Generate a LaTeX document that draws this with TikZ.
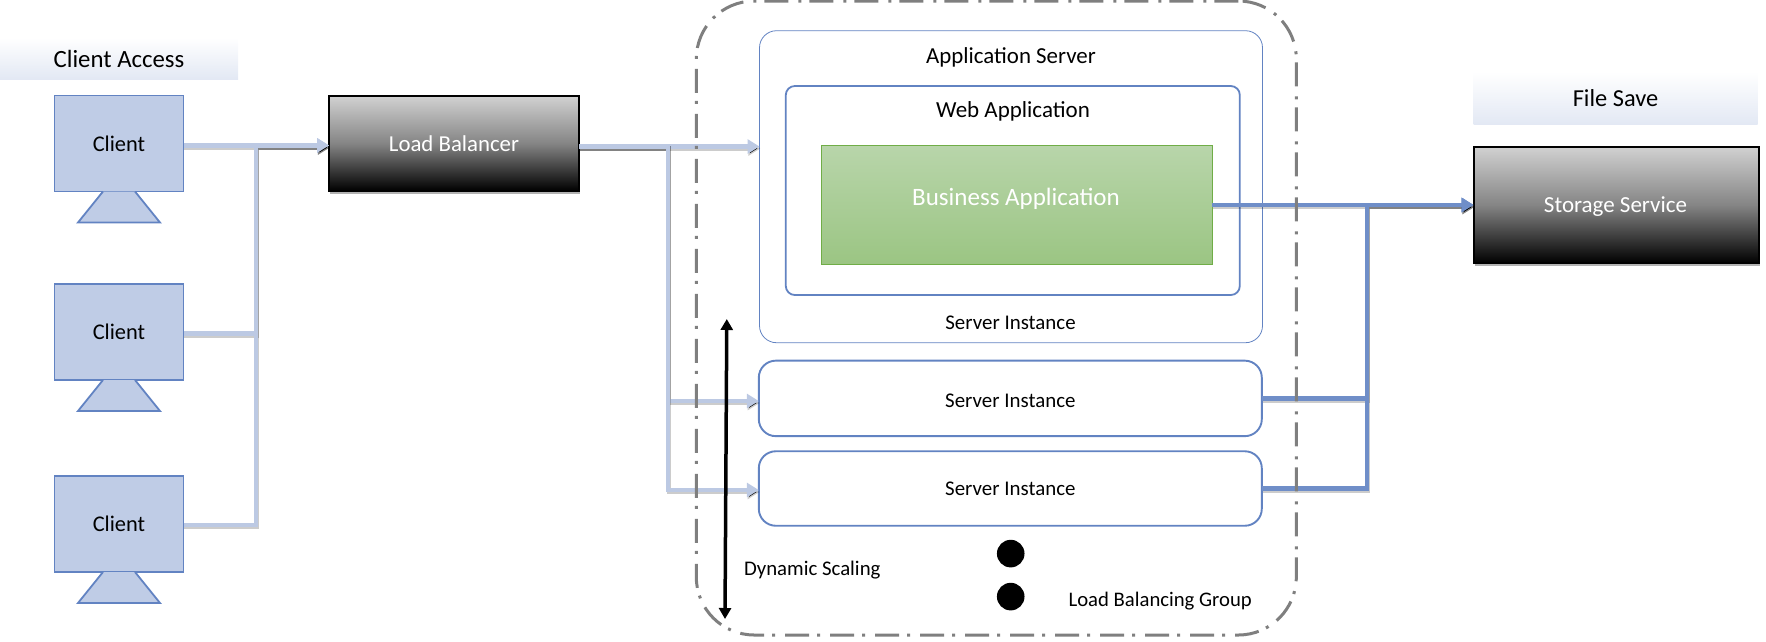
\documentclass[tikz,border=0pt]{standalone}
\usepackage{fontspec}
\setmainfont{Carlito}
\usetikzlibrary{arrows.meta,shadows,calc}
\definecolor{boxfill}{HTML}{BFCCE6}
\definecolor{boxline}{HTML}{6283C2}
\definecolor{connlight}{HTML}{BCC9E3}
\definecolor{conndark}{HTML}{6F8EC8}
\definecolor{bizline}{HTML}{70AD47}
\definecolor{biztop}{HTML}{B8D5AA}
\definecolor{bizbot}{HTML}{9BC583}
\definecolor{outerline}{HTML}{7F7F7F}
\newcommand{\fsz}[1]{\fontsize{#1}{#1}\selectfont}
\tikzset{
  base/.style={inner sep=0pt,outer sep=0pt,align=center},
  clientbox/.style={base,draw=boxline,line width=1.8pt,fill=boxfill,minimum width=129pt,minimum height=96pt,font=\fsz{22.4}},
  stand/.style={draw=boxline,line width=1.8pt,fill=boxfill,line join=miter},
  darkbox/.style={base,draw=black,line width=2pt,top color=black!18,bottom color=black,middle color=black!48,text=white,
     drop shadow={shadow xshift=1pt,shadow yshift=-3pt,opacity=.3,fill=black}},
  band/.style={base,top color=white,bottom color=boxfill!45!white},
  lbl/.style={base,font=\fsz{20.9}},
  instance/.style={base,draw=boxline,line width=1.9pt,rounded corners=17pt,minimum width=503pt,font=\fsz{20.9}},
  lightconn/.style={draw=connlight,line width=4.2pt,
     preaction={draw=black,draw opacity=.2,line width=4.2pt,transform canvas={xshift=.8pt,yshift=-2pt}}},
  darkconn/.style={draw=conndark,line width=4.2pt,
     preaction={draw=black,draw opacity=.2,line width=4.2pt,transform canvas={xshift=.8pt,yshift=-2pt}}},
  tip/.style={-{Triangle[length=12pt,width=14pt]}},
}
\begin{document}
\begin{tikzpicture}[x=1pt,y=-1pt]
\useasboundingbox (0,0) rectangle (1766,641);
% bands
\node[band,minimum width=238pt,minimum height=42pt,font=\fsz{24.8}] (access) at (119,58.5) {Client Access};
\node[band,minimum width=284pt,minimum height=53pt,font=\fsz{24.4}] (filesave) at (1615.5,98.3) {File Save};
% clients
\foreach \n/\y in {c1/143.5,c2/332,c3/524}{
  \node[clientbox] (\n) at (119,\y) {Client};
  \draw[stand] ([xshift=-16pt]\n.south) -- ([xshift=-41pt,yshift=-31pt]\n.south) -- ([xshift=41pt,yshift=-31pt]\n.south) -- ([xshift=16pt]\n.south);
}
% dark boxes
\node[darkbox,minimum width=250pt,minimum height=95pt,font=\fsz{22.8}] (lb) at (454,143.5) {Load Balancer};
\node[darkbox,minimum width=285pt,minimum height=116.5pt] (store) at (1616,205) {};
\node[base,text=white,font=\fsz{23}] (storetext) at (1615.5,206.8) {Storage Service};
% server
\node[base,draw=boxline,line width=.8pt,rounded corners=17pt,minimum width=503pt,minimum height=312pt] (app) at (1011,186.7) {};
\node[lbl,font=\fsz{22.9}] (apptitle) at (1011,57.2) {Application Server};
\node[base,draw=boxline,line width=1.8pt,rounded corners=9pt,minimum width=454pt,minimum height=209pt] (web) at (1012.8,190.5) {};
\node[lbl,font=\fsz{23}] (webtitle) at (1013,111.5) {Web Application};
\node[base,draw=bizline,line width=1pt,top color=biztop,bottom color=bizbot,minimum width=391pt,minimum height=118.5pt] (biz) at (1016.8,205) {};
\node[base,text=white,font=\fsz{25}] (biztext) at (1016,198.5) {Business Application};
\node[lbl] (s1) at (1010.5,323) {Server Instance};
\node[instance,minimum height=75.5pt] (s2) at (1010.3,398.4) {};
\node[lbl] (s2text) at (1010.3,401.2) {Server Instance};
\node[instance,minimum height=74.5pt] (s3) at (1010.3,488.5) {Server Instance};
\node[circle,fill=black,minimum size=27.6pt,inner sep=0pt] (d1) at (1010.7,553.6) {};
\node[circle,fill=black,minimum size=27.6pt,inner sep=0pt] (d2) at (1010.7,596.6) {};
\node[lbl,font=\fsz{20.8}] (dyn) at (812.3,570) {Dynamic Scaling};
\node[lbl,font=\fsz{20.7}] (lbg) at (1160.2,601.5) {Load Balancing Group};
% routing points
\coordinate (ja) at (256,145.5);
\coordinate (jb) at (668,146.5);
\coordinate (js2) at (668,401);
\coordinate (js3) at (668,490);
\coordinate (jc) at (1367,205);
% connectors in
\draw[lightconn,tip] (ja -| c1.east) -- (ja -| lb.west);
\draw[lightconn,tip] ([yshift=-1.5pt]c2.east) -| (ja) -- (ja -| lb.west);
\draw[lightconn,tip] ([yshift=-1pt]c3.east) -| (ja) -- (ja -| lb.west);
% connectors out
\draw[lightconn,tip] (jb -| lb.east) -- (jb -| app.west);
\draw[lightconn,tip] (jb -| lb.east) -| (js2) -- (js2 -| s2.west);
\draw[lightconn,tip] (jb -| lb.east) -| (js3) -- (js3 -| s3.west);
% connectors to storage
\draw[darkconn,tip] (biz.east) -- (store.west);
\draw[darkconn,tip] (s2.east) -| (jc) -- (store.west);
\draw[darkconn,tip] (s3.east) -| (jc) -- (store.west);
% outer group
\node[base,draw=outerline,line width=3pt,rounded corners=58pt,minimum width=600pt,minimum height=634pt,
      dash pattern=on 24pt off 8pt on 3pt off 10pt] (group) at (996.3,318) {};
% scaling arrow
\coordinate (sa) at (726.8,319);
\coordinate (sb) at (725,619);
\draw[line width=3.5pt,{Triangle[length=11pt,width=12pt]}-{Triangle[length=11pt,width=12pt]}] (sa) -- (sb);
\end{tikzpicture}
\end{document}
